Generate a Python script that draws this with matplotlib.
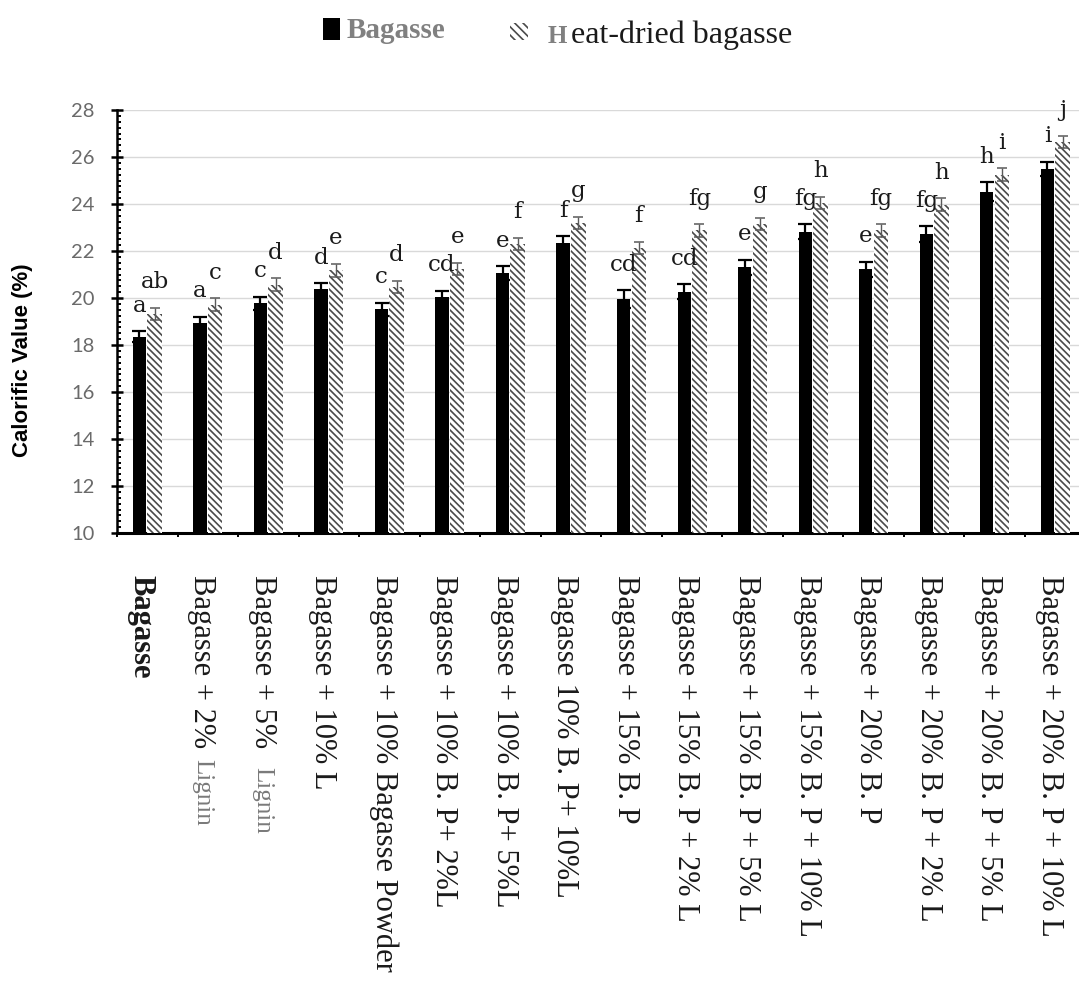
import matplotlib
matplotlib.use("Agg")
import matplotlib.pyplot as plt
import numpy as np
from matplotlib.patches import Rectangle
from matplotlib.ticker import MultipleLocator, FixedLocator

# ---- data -------------------------------------------------------------
categories = [
    "Bagasse",
    "Bagasse + 2% ",
    "Bagasse + 5%  ",
    "Bagasse + 10% L",
    "Bagasse + 10% Bagasse Powder",
    "Bagasse + 10% B. P+ 2%L",
    "Bagasse + 10% B. P+ 5%L",
    "Bagasse 10% B. P+ 10%L",
    "Bagasse + 15% B. P",
    "Bagasse + 15% B. P + 2% L",
    "Bagasse + 15% B. P + 5% L",
    "Bagasse + 15% B. P + 10% L",
    "Bagasse + 20% B. P",
    "Bagasse + 20% B. P + 2% L",
    "Bagasse + 20% B. P + 5% L",
    "Bagasse + 20% B. P + 10% L",
]
# grey tail written after some category names
category_tails = {1: "Lignin", 2: "Lignin"}

bagasse = [18.35, 18.92, 19.77, 20.37, 19.52, 20.03, 21.05, 22.33,
           19.94, 20.27, 21.30, 22.82, 21.22, 22.72, 24.53, 25.50]
bagasse_err = [0.24, 0.28, 0.28, 0.25, 0.28, 0.28, 0.30, 0.30,
               0.38, 0.32, 0.32, 0.32, 0.32, 0.33, 0.40, 0.30]
heat_dried = [19.32, 19.72, 20.57, 21.18, 20.47, 21.23, 22.30, 23.19,
              22.13, 22.88, 23.15, 24.04, 22.88, 23.97, 25.25, 26.64]
heat_dried_err = [0.27, 0.27, 0.27, 0.27, 0.27, 0.27, 0.27, 0.27,
                  0.27, 0.27, 0.27, 0.27, 0.27, 0.27, 0.27, 0.27]

letters_bagasse = ["a", "a", "c", "d", "c", "cd", "e", "f",
                   "cd", "cd", "e", "fg", "e", "fg", "h", "i"]
letters_heat = ["ab", "c", "d", "e", "d", "e", "f", "g",
                "f", "fg", "g", "h", "fg", "h", "i", "j"]

y_ticks = [10, 12, 14, 16, 18, 20, 22, 24, 26, 28]

# ---- figure -----------------------------------------------------------
W, H = 1079, 986
plt.rcParams["hatch.linewidth"] = 1.2
fig = plt.figure(figsize=(W / 100, H / 100), dpi=100)
ax = fig.add_axes([117 / W, (H - 533) / H, (W - 117) / W, (533 - 110) / H])

n = len(categories)
x = np.arange(n) + 0.5
hatch_col = "#4a4a4a"

ax.bar(x - 0.13, bagasse, width=0.22, color="black", zorder=3)
ax.bar(x + 0.12, heat_dried, width=0.24, facecolor="white",
       edgecolor=hatch_col, hatch="\\" * 5, linewidth=0, zorder=3)

ax.errorbar(x - 0.13, bagasse, yerr=bagasse_err, fmt="none", ecolor="black",
            elinewidth=1.6, capsize=4.7, capthick=1.6, zorder=4)
ax.errorbar(x + 0.12, heat_dried, yerr=heat_dried_err, fmt="none",
            ecolor="#5a5a5a", elinewidth=1.0, capsize=3.6, capthick=1.1, zorder=4)

letter_font = dict(family="DejaVu Serif", fontsize=16.5, color="#1a1a1a")
for xi, v, e, t in zip(x - 0.13, bagasse, bagasse_err, letters_bagasse):
    ax.annotate(t, (xi, v + e), xytext=(0, 14), textcoords="offset points",
                ha="center", va="baseline", **letter_font)
for xi, v, e, t in zip(x + 0.12, heat_dried, heat_dried_err, letters_heat):
    ax.annotate(t, (xi, v + e), xytext=(0, 14), textcoords="offset points",
                ha="center", va="baseline", **letter_font)

# ---- axes styling -----------------------------------------------------
ax.set_ylim(10, 28)
ax.set_xlim(0, (W - 117.5) / 60.5)
ax.set_yticks(y_ticks)
ax.yaxis.set_minor_locator(MultipleLocator(0.25))
ax.grid(axis="y", color="#d9d9d9", linewidth=1.0, zorder=0)
ax.set_axisbelow(True)

for s in ("top", "right"):
    ax.spines[s].set_visible(False)
ax.spines["left"].set_linewidth(1.8)
ax.spines["bottom"].set_linewidth(2.2)

ax.tick_params(axis="y", which="major", direction="inout", length=8, width=1.8,
               pad=12, labelsize=14.5, labelcolor="#6a6a6a")
ax.tick_params(axis="y", which="minor", direction="in", length=3, width=1.4)
for lab in ax.get_yticklabels():
    lab.set_family("Lato")

# category labels hang below the axis, boundaries carry small ticks
ax.xaxis.set_major_locator(FixedLocator(x - 0.1))
ax.set_xticklabels(categories, rotation=-90, ha="center", va="top",
                   family="Liberation Serif", fontsize=22, color="#1a1a1a")
ax.tick_params(axis="x", which="major", length=0, pad=30)
ax.xaxis.set_minor_locator(FixedLocator(np.arange(n + 1)))
ax.tick_params(axis="x", which="minor", direction="out", length=3, width=1.4)
ticklabs = ax.get_xticklabels()
ticklabs[0].set_fontweight("bold")

ax.set_ylabel("")
fig.text(22.5 / W, 1 - 360 / H, "Calorific Value (%)", rotation=90,
         ha="center", va="center", fontsize=16, fontweight="bold",
         family="Liberation Sans", color="black")

# grey tails after the lignin labels
fig.canvas.draw()
renderer = fig.canvas.get_renderer()
inv = fig.transFigure.inverted()
for idx, tail in category_tails.items():
    bb = ticklabs[idx].get_window_extent(renderer)
    fx, fy = inv.transform(((bb.x0 + bb.x1) / 2, bb.y0 - 4))
    fig.text(fx, fy, tail, rotation=-90, ha="center", va="top",
             family="Liberation Serif", fontsize=18, color="#7a7a7a")

# ---- legend row -------------------------------------------------------
fig.patches.append(Rectangle((323 / W, 1 - 40 / H), 17 / W, 22 / H,
                             transform=fig.transFigure, facecolor="black",
                             edgecolor="none"))
fig.text(347 / W, 1 - 38 / H, "Bagasse", fontsize=21, fontweight="bold",
         color="#808080", family="Liberation Serif", va="baseline")
fig.patches.append(Rectangle((510 / W, 1 - 40 / H), 18 / W, 17 / H,
                             transform=fig.transFigure, facecolor="white",
                             edgecolor=hatch_col, hatch="\\" * 4, linewidth=0))
fig.text(548 / W, 1 - 43 / H, "H", fontsize=18, fontweight="bold",
         color="#808080", family="Liberation Serif", va="baseline")
fig.text(571 / W, 1 - 43 / H, "eat-dried bagasse", fontsize=23,
         color="#1a1a1a", family="Liberation Serif", va="baseline")

fig.savefig("out.png", dpi=100)
